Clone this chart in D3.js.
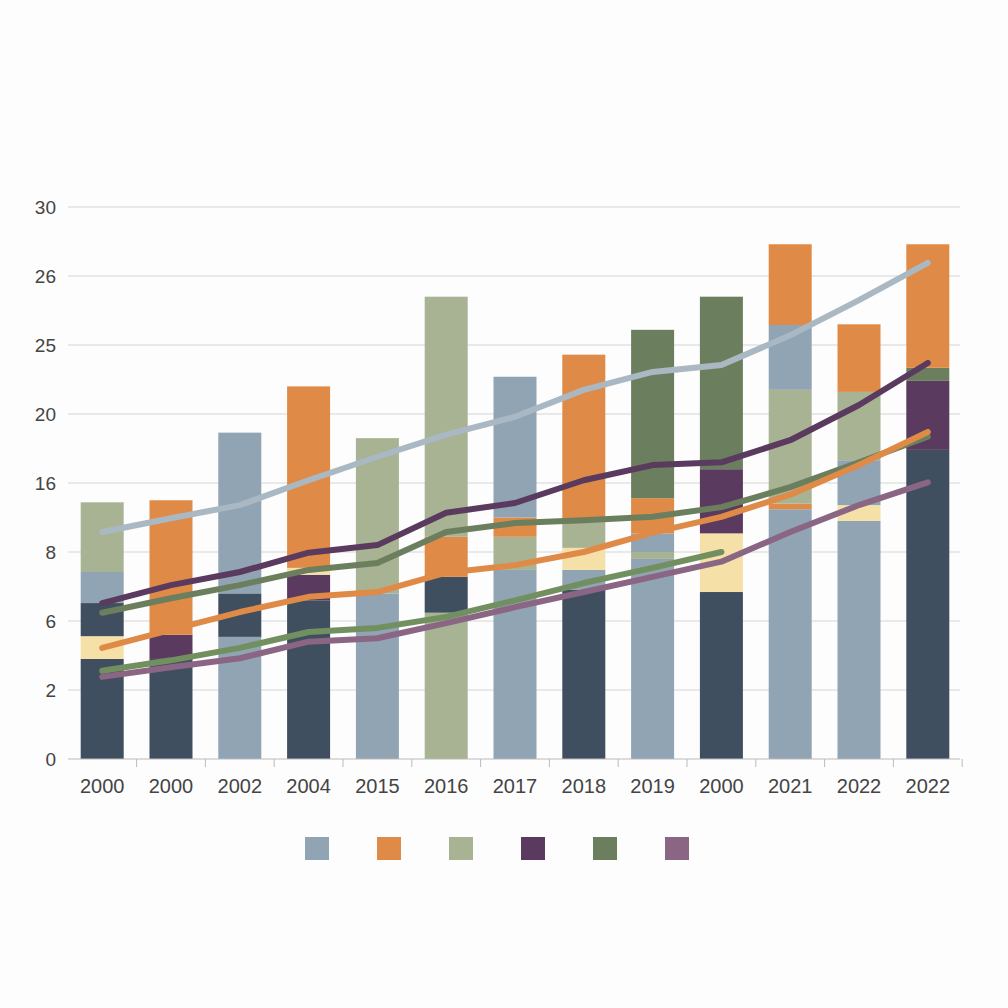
<!DOCTYPE html><html><head><meta charset="utf-8"><script src="https://cdn.jsdelivr.net/npm/d3@7"></script>
<style>body{margin:0;background:#fdfdfd}svg{font-family:"Liberation Sans",Arial,sans-serif}</style></head><body><svg id="c" width="1008" height="1008"></svg>
<script>
const categories=["2000","2000","2002","2004","2015","2016","2017","2018","2019","2000","2021","2022","2022"];
const yTickLabels=["0","2","6","8","16","20","25","26","30"];
const colors={bg:"#91a4b4",or:"#e08a47",sg:"#a7b393",pu:"#5a3a5e",dg:"#6b7f5e",mv:"#8b6584",nv:"#3f4f60",ye:"#f5e0a8"};
const barSegments=[
 [["nv",1.45],["ye",1.78],["nv",2.26],["bg",2.71],["sg",3.72]],
 [["nv",1.45],["pu",1.8],["or",3.75]],
 [["bg",1.77],["nv",2.4],["bg",4.73]],
 [["nv",2.3],["pu",2.67],["ye",2.77],["or",5.4]],
 [["bg",2.4],["sg",4.65]],
 [["sg",2.12],["nv",2.64],["or",3.22],["sg",6.7]],
 [["bg",2.74],["sg",3.22],["or",3.5],["bg",5.54]],
 [["nv",2.45],["bg",2.74],["ye",3.06],["sg",3.49],["or",5.86]],
 [["bg",2.9],["sg",3.0],["bg",3.27],["or",3.78],["dg",6.22]],
 [["nv",2.42],["ye",3.27],["pu",4.2],["dg",6.7]],
 [["bg",3.62],["or",3.7],["sg",5.35],["bg",6.29],["or",7.46]],
 [["bg",3.45],["ye",3.68],["bg",4.33],["sg",5.32],["or",6.3]],
 [["nv",4.48],["pu",5.48],["dg",5.67],["or",7.46]]
];
const lineBlueGray=[3.29,3.49,3.68,4.04,4.38,4.70,4.96,5.35,5.61,5.71,6.14,6.65,7.19];
const linePurple=[2.26,2.52,2.71,2.99,3.10,3.57,3.71,4.04,4.26,4.30,4.62,5.13,5.74];
const lineGreen=[2.12,2.33,2.52,2.74,2.84,3.29,3.42,3.46,3.51,3.65,3.94,4.30,4.67];
const lineOrange=[1.61,1.87,2.13,2.35,2.42,2.70,2.81,3.00,3.28,3.51,3.83,4.26,4.74];
const lineGreenLow=[1.28,1.43,1.61,1.84,1.90,2.06,2.30,2.55,2.77,3.00];
const lineMauve=[1.19,1.33,1.46,1.70,1.75,1.97,2.20,2.42,2.64,2.86,3.29,3.68,4.01];
const legendKeys=["bg","or","sg","pu","dg","mv"];

const svg=d3.select("#c");
const x=d3.scaleBand().domain(d3.range(categories.length)).range([69,961]).paddingInner(0.375).paddingOuter(0.17);
const y=d3.scaleLinear().domain([0,8]).range([759,207]);
svg.append("g").selectAll("line").data(d3.range(1,9)).join("line")
 .attr("x1",68).attr("x2",960).attr("y1",d=>y(d)).attr("y2",d=>y(d)).attr("stroke","#e2e2e2").attr("stroke-width",1.5);
svg.append("g").selectAll("text").data(yTickLabels).join("text")
 .attr("x",56).attr("y",(d,i)=>y(i)+7).attr("text-anchor","end").attr("font-size",19).attr("fill","#444").text(d=>d);
barSegments.forEach((segs,i)=>{let b=0;segs.forEach(([k,t])=>{
 svg.append("rect").attr("x",x(i)).attr("width",x.bandwidth()).attr("y",y(t)).attr("height",y(b)-y(t)).attr("fill",colors[k]);b=t;});});
const ax=svg.append("g").attr("transform","translate(0,759)").call(d3.axisBottom(x).tickFormat(i=>categories[i]).tickSize(8).tickSizeOuter(0));
ax.select(".domain").attr("stroke","#bbb").attr("d","M68,0H960");
ax.selectAll(".tick line").attr("stroke","#bbb").attr("transform",`translate(${x.step()/2},0)`);
ax.selectAll("text").attr("font-size",20).attr("fill","#444").attr("dy","1.15em").attr("font-family","Liberation Sans, Arial");
const lg=d3.line().x((d,i)=>x(i)+x.bandwidth()/2).y(d=>y(d));
[[lineBlueGray,"#a9b8c2"],[linePurple,colors.pu],[lineGreen,colors.dg],[lineOrange,colors.or],[lineGreenLow,"#72905f"],[lineMauve,colors.mv]].forEach(([d,c])=>{
 svg.append("path").attr("d",lg(d)).attr("fill","none").attr("stroke",c).attr("stroke-width",6).attr("stroke-linecap","round").attr("stroke-linejoin","round");});
svg.append("g").selectAll("rect").data(legendKeys).join("rect")
 .attr("x",(d,i)=>305+i*72).attr("y",837).attr("width",24).attr("height",23).attr("fill",d=>colors[d]);
</script></body></html>
